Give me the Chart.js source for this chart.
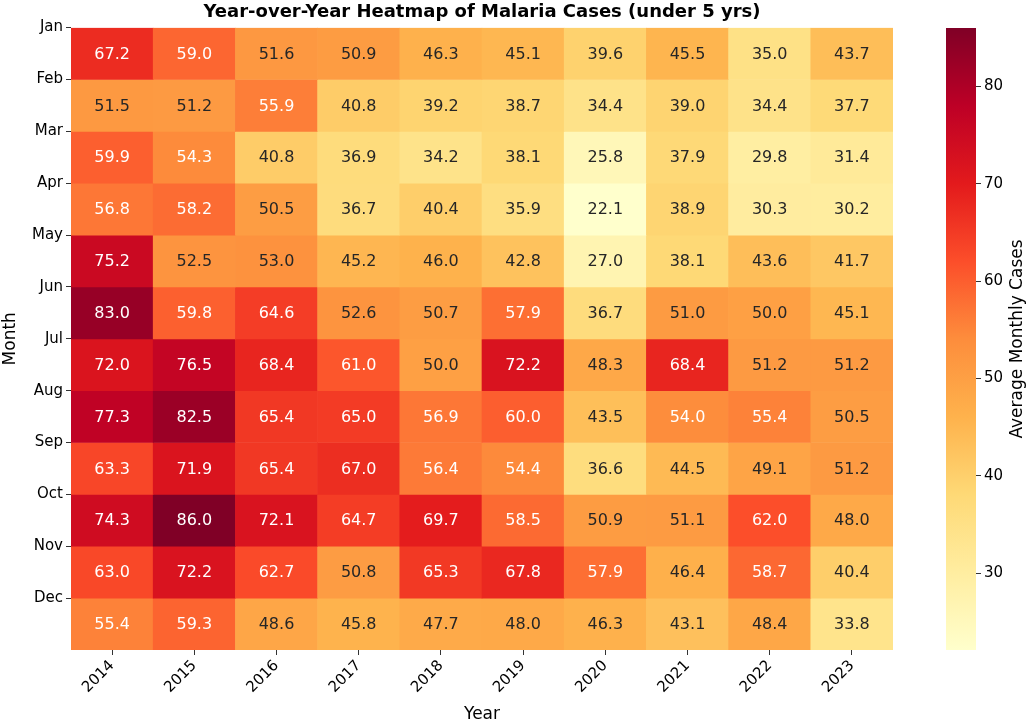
<!DOCTYPE html>
<html>
<head>
<meta charset="utf-8">
<script src="https://cdn.jsdelivr.net/npm/chart.js@4.4.0/dist/chart.umd.min.js"></script>
<style>
  body { margin: 0; background: #fff; }
  #wrap { position: relative; width: 1035px; height: 725px; }
  #heatWrap { position: absolute; left: 0; top: 0; width: 900px; height: 725px; }
  #barWrap { position: absolute; left: 935px; top: 0; width: 100px; height: 725px; }
</style>
</head>
<body>
<div id="wrap">
  <div id="heatWrap"><canvas id="heatChart"></canvas></div>
  <div id="barWrap"><canvas id="cbarChart"></canvas></div>
</div>
<script>
const years = ['2014','2015','2016','2017','2018','2019','2020','2021','2022','2023'];
const months = ['Jan','Feb','Mar','Apr','May','Jun','Jul','Aug','Sep','Oct','Nov','Dec'];

const jan = [67.2, 59.0, 51.6, 50.9, 46.3, 45.1, 39.6, 45.5, 35.0, 43.7];
const feb = [51.5, 51.2, 55.9, 40.8, 39.2, 38.7, 34.4, 39.0, 34.4, 37.7];
const mar = [59.9, 54.3, 40.8, 36.9, 34.2, 38.1, 25.8, 37.9, 29.8, 31.4];
const apr = [56.8, 58.2, 50.5, 36.7, 40.4, 35.9, 22.1, 38.9, 30.3, 30.2];
const may = [75.2, 52.5, 53.0, 45.2, 46.0, 42.8, 27.0, 38.1, 43.6, 41.7];
const jun = [83.0, 59.8, 64.6, 52.6, 50.7, 57.9, 36.7, 51.0, 50.0, 45.1];
const jul = [72.0, 76.5, 68.4, 61.0, 50.0, 72.2, 48.3, 68.4, 51.2, 51.2];
const aug = [77.3, 82.5, 65.4, 65.0, 56.9, 60.0, 43.5, 54.0, 55.4, 50.5];
const sep = [63.3, 71.9, 65.4, 67.0, 56.4, 54.4, 36.6, 44.5, 49.1, 51.2];
const oct = [74.3, 86.0, 72.1, 64.7, 69.7, 58.5, 50.9, 51.1, 62.0, 48.0];
const nov = [63.0, 72.2, 62.7, 50.8, 65.3, 67.8, 57.9, 46.4, 58.7, 40.4];
const dec = [55.4, 59.3, 48.6, 45.8, 47.7, 48.0, 46.3, 43.1, 48.4, 33.8];
const rows = [jan, feb, mar, apr, may, jun, jul, aug, sep, oct, nov, dec];

const colorbarTicks = [30, 40, 50, 60, 70, 80];

const vmin = Math.min(...rows.flat());
const vmax = Math.max(...rows.flat());

// matplotlib YlOrRd
const ylOrRd = ['#ffffcc','#ffeda0','#fed976','#feb24c','#fd8d3c','#fc4e2a','#e31a1c','#bd0026','#800026'];

function hexToRgb(h) {
  return [parseInt(h.slice(1,3),16), parseInt(h.slice(3,5),16), parseInt(h.slice(5,7),16)];
}

function cellColor(v) {
  let t = (v - vmin) / (vmax - vmin);
  t = Math.max(0, Math.min(1, t));
  const pos = t * (ylOrRd.length - 1);
  const i = Math.min(Math.floor(pos), ylOrRd.length - 2);
  const f = pos - i;
  const a = hexToRgb(ylOrRd[i]), b = hexToRgb(ylOrRd[i + 1]);
  const c = a.map((x, k) => Math.round(x + (b[k] - x) * f));
  return 'rgb(' + c.join(',') + ')';
}

const FONT = "'DejaVu Sans', sans-serif";
const TXT = '#262626';

const cellLabels = {
  id: 'cellLabels',
  afterDatasetsDraw(chart) {
    const ctx = chart.ctx;
    ctx.save();
    ctx.font = '16px ' + FONT;
    ctx.textAlign = 'center';
    ctx.textBaseline = 'middle';
    chart.data.datasets.forEach((ds, di) => {
      const meta = chart.getDatasetMeta(di);
      meta.data.forEach((el, i) => {
        const v = rows[di][i];
        ctx.fillStyle = v >= 53.5 ? '#ffffff' : TXT;
        ctx.fillText(v.toFixed(1), el.x, (el.y + el.base) / 2 + 1);
      });
    });
    ctx.restore();
  }
};

new Chart(document.getElementById('heatChart'), {
  type: 'bar',
  data: {
    labels: years,
    datasets: rows.map((r, mi) => ({
      label: months[mi],
      data: r.map(() => 1),
      backgroundColor: r.map(v => cellColor(v)),
      borderWidth: 0,
      barPercentage: 1,
      categoryPercentage: 1
    }))
  },
  options: {
    responsive: true,
    maintainAspectRatio: false,
    animation: false,
    layout: { padding: { left: 0, right: 7, top: 0, bottom: 0 } },
    plugins: {
      legend: { display: false },
      tooltip: { enabled: false },
      title: {
        display: true,
        fullSize: false,
        text: 'Year-over-Year Heatmap of Malaria Cases (under 5 yrs)',
        color: '#000',
        font: { family: FONT, size: 18, weight: 'bold' },
        padding: { top: 2, bottom: 4 }
      }
    },
    scales: {
      x: {
        stacked: true,
        offset: true,
        grid: { display: true, drawOnChartArea: false, offset: false, tickLength: 5, color: '#333' },
        border: { display: false },
        ticks: { color: '#000', font: { family: FONT, size: 15 }, maxRotation: 45, minRotation: 45, padding: 2 },
        title: { display: true, text: 'Year', color: '#000', font: { family: FONT, size: 17 }, padding: { top: 0, bottom: 0 } },
        afterFit(scale) { scale.height = 75; }
      },
      y: {
        stacked: true,
        reverse: true,
        min: 0,
        max: 12,
        afterBuildTicks(scale) { scale.ticks = months.map((m, i) => ({ value: i })); },
        grid: { display: true, drawOnChartArea: false, tickLength: 5, color: '#333' },
        border: { display: false },
        ticks: {
          color: '#000',
          font: { family: FONT, size: 15 },
          padding: 3,
          callback: v => months[v] || ''
        },
        title: { display: true, text: 'Month', color: '#000', font: { family: FONT, size: 17 }, padding: { top: 0, bottom: 2 } },
        afterFit(scale) { scale.width = 71; }
      }
    }
  },
  plugins: [cellLabels]
});

const cbarTitle = {
  id: 'cbarTitle',
  afterDraw(chart) {
    const ctx = chart.ctx;
    const a = chart.chartArea;
    ctx.save();
    ctx.translate(83, (a.top + a.bottom) / 2);
    ctx.rotate(-Math.PI / 2);
    ctx.font = '17px ' + FONT;
    ctx.fillStyle = '#000';
    ctx.textAlign = 'center';
    ctx.textBaseline = 'middle';
    ctx.fillText('Average Monthly Cases', 0, 0);
    ctx.restore();
  }
};

new Chart(document.getElementById('cbarChart'), {
  type: 'bar',
  data: {
    labels: [''],
    datasets: [{
      data: [[vmin, vmax]],
      borderWidth: 0,
      barPercentage: 1,
      categoryPercentage: 1,
      backgroundColor(c) {
        const a = c.chart.chartArea;
        if (!a) return ylOrRd[4];
        const g = c.chart.ctx.createLinearGradient(0, a.bottom, 0, a.top);
        ylOrRd.forEach((col, i) => g.addColorStop(i / (ylOrRd.length - 1), col));
        return g;
      }
    }]
  },
  options: {
    responsive: true,
    maintainAspectRatio: false,
    animation: false,
    layout: { padding: { left: 11, right: 0, top: 28, bottom: 75 } },
    plugins: { legend: { display: false }, tooltip: { enabled: false } },
    scales: {
      x: { display: false },
      y: {
        position: 'right',
        min: vmin,
        max: vmax,
        afterBuildTicks(scale) { scale.ticks = colorbarTicks.map(v => ({ value: v })); },
        grid: { display: true, drawOnChartArea: false, tickLength: 5, color: '#333' },
        border: { display: false },
        ticks: { color: '#000', font: { family: FONT, size: 15 }, padding: 3 },
        afterFit(scale) { scale.width = 59; }
      }
    }
  },
  plugins: [cbarTitle]
});
</script>
</body>
</html>
